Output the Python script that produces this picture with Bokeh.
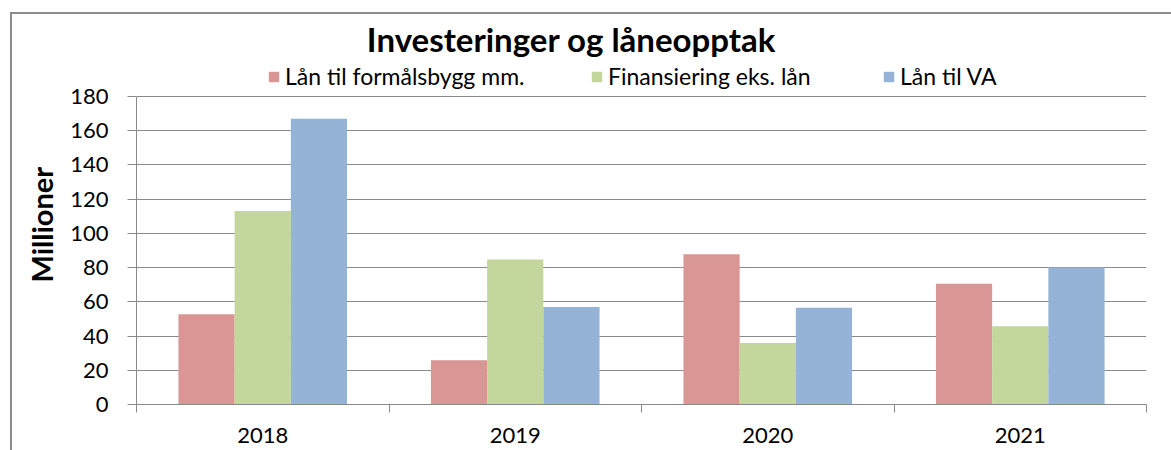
from bokeh.plotting import figure
from bokeh.models import (Range1d, FixedTicker, Legend, LegendItem, Title, Label,
                          ColumnDataSource)
from bokeh.transform import dodge
from bokeh.embed import file_html
from bokeh.resources import INLINE

# ---- data ----
years = ["2018", "2019", "2020", "2021"]
series_names = ["Lån til formålsbygg mm.", "Finansiering eks. lån", "Lån til VA"]
lan_formalsbygg = [52.8, 25.8, 87.8, 70.6]
finansiering = [113.1, 84.7, 35.9, 45.7]
lan_va = [167.0, 57.0, 56.6, 80.0]
y_ticks = [0, 20, 40, 60, 80, 100, 120, 140, 160, 180]
title_text = "Investeringer og låneopptak"
y_title = "Millioner"

colors = ["#D99694", "#C3D69B", "#95B3D7"]
FONT = "Lato"
GRID = "#8a8a8a"

# layout (pixels)
H, BOTTOM = 450, 46
FRAME_H = H - BOTTOM          # frame spans from the top of the canvas
TOP180 = 96                   # pixel row of the 180 gridline
y_max = max(y_ticks)
y_top = y_max * FRAME_H / (FRAME_H - TOP180)

xpos = [i + 1 for i in range(len(years))]
src = ColumnDataSource(dict(x=xpos, a=lan_formalsbygg, b=finansiering, c=lan_va))

p = figure(width=1171, height=H, title=None,
           x_range=Range1d(0.5, len(years) + 0.5), y_range=Range1d(0, y_top),
           output_backend="svg", toolbar_location=None,
           min_border_left=136, min_border_right=25,
           min_border_top=0, min_border_bottom=BOTTOM)
p.outline_line_color = None
p.background_fill_color = None
p.border_fill_color = None
p.styles = {"box-shadow": "inset 10px 12px 0 0 white, inset 12px 14px 0 0 #8c8c8c",
            "background-color": "white"}

bw = 0.2226
renderers = []
for col, off, color in zip(["a", "b", "c"], [-bw, 0, bw], colors):
    r = p.vbar(x=dodge("x", off, range=p.x_range), top=col, width=bw,
               source=src, fill_color=color, line_color=None)
    renderers.append(r)

# grid
p.xgrid.visible = False
p.ygrid.ticker = FixedTicker(ticks=y_ticks)
p.ygrid.grid_line_color = GRID
p.ygrid.grid_line_width = 1

# y axis
ya = p.yaxis[0]
ya.ticker = FixedTicker(ticks=y_ticks)
ya.bounds = (0, y_max)
ya.axis_line_color = GRID
ya.major_tick_line_color = GRID
ya.major_tick_out = 9
ya.major_tick_in = 0
ya.minor_tick_out = 0
ya.minor_tick_in = 0
ya.major_label_standoff = 19
ya.major_label_text_font = FONT
ya.major_label_text_font_size = "22px"
ya.major_label_text_color = "black"

# x axis
xa = p.xaxis[0]
xa.ticker = FixedTicker(ticks=xpos, minor_ticks=[i + 0.5 for i in range(len(years) + 1)])
xa.major_label_overrides = {x: y for x, y in zip(xpos, years)}
xa.axis_line_color = GRID
xa.major_tick_out = 0
xa.major_tick_in = 0
xa.minor_tick_out = 8
xa.minor_tick_in = 0
xa.minor_tick_line_color = GRID
xa.major_label_standoff = 15
xa.major_label_text_font = FONT
xa.major_label_text_font_size = "22px"
xa.major_label_text_color = "black"

# legend entries (one per series, placed in the frame's top area)
for r, name, lx in zip(renderers, series_names, [131, 454, 746]):
    leg = Legend(items=[LegendItem(label=name, renderers=[r])],
                 location=(lx, 314), orientation="horizontal",
                 glyph_width=13, glyph_height=13, label_height=13,
                 label_standoff=5, padding=0, margin=0,
                 border_line_color=None, background_fill_alpha=0,
                 label_text_font=FONT, label_text_font_size="23px",
                 label_text_color="black")
    p.add_layout(leg, "center")

# title
p.add_layout(Label(x=435, y=FRAME_H - 38, x_units="screen", y_units="screen",
                   text=title_text, text_align="center", text_baseline="alphabetic",
                   text_font=FONT, text_font_style="bold",
                   text_font_size="33px", text_color="black"))

# y axis title
p.add_layout(Title(text=y_title, align="left", offset=122, standoff=17,
                   text_font=FONT, text_font_style="bold",
                   text_font_size="29px", text_color="black"), "left")

open("out.html", "w").write(file_html(p, INLINE))
